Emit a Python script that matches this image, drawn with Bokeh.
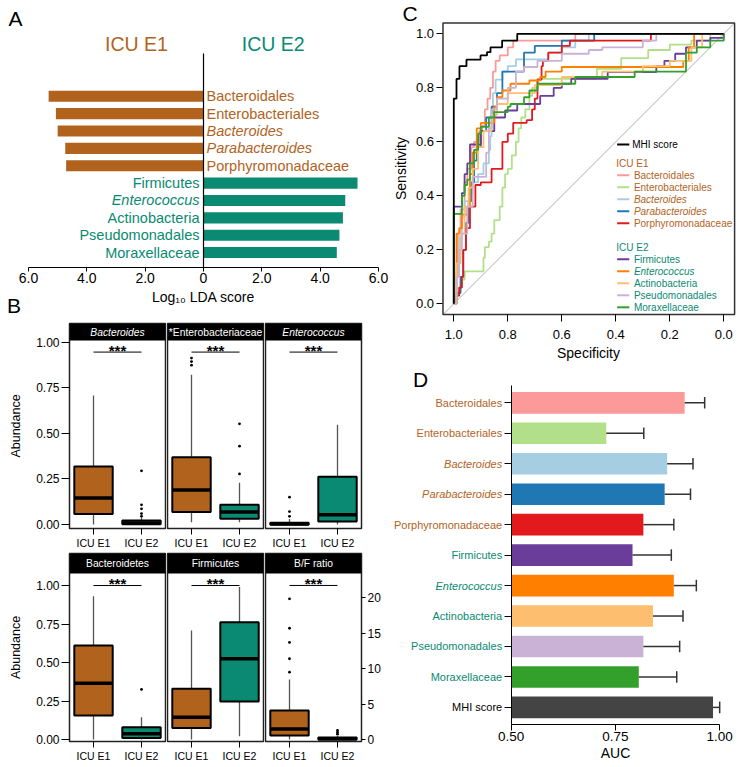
from bokeh.plotting import figure
from bokeh.layouts import row, column
from bokeh.models import (Range1d, FixedTicker, PrintfTickFormatter, LinearAxis,
                          ColumnDataSource)
from bokeh.core.properties import value, field
from bokeh.embed import file_html
from bokeh.resources import INLINE

FONT = "Liberation Sans"
BROWN = "#b1631e"
TEAL = "#0a8a72"

# ---------------- Panel A data (LEfSe) ----------------
lda_taxa = ["Bacteroidales", "Enterobacteriales", "Bacteroides", "Parabacteroides",
            "Porphyromonadaceae", "Firmicutes", "Enterococcus", "Actinobacteria",
            "Pseudomonadales", "Moraxellaceae"]
lda_group = ["ICU E1"] * 5 + ["ICU E2"] * 5
lda_score = [5.31, 5.06, 5.00, 4.74, 4.71, 5.28, 4.86, 4.78, 4.66, 4.57]
lda_ticks = [-6, -4, -2, 0, 2, 4, 6]
lda_tick_labels = ["6.0", "4.0", "2.0", "0", "2.0", "4.0", "6.0"]
italic_taxa = ["Bacteroides", "Parabacteroides", "Enterococcus"]

# ---------------- Panel B data (box plots) ----------------
box_panels = ["Bacteroides", "*Enterobacteriaceae", "Enterococcus",
              "Bacteroidetes", "Firmicutes", "B/F ratio"]
box_groups = ["ICU E1", "ICU E2"]
box_lower = [[0.0, 0.0], [0.013, 0.013], [0.0, 0.0], [0.0, 0.0], [0.0, 0.021], [0.0, 0.0]]
box_q1 = [[0.057, 0.001], [0.068, 0.031], [0.0, 0.016], [0.156, 0.01], [0.074, 0.247], [0.56, 0.0]]
box_median = [[0.145, 0.008], [0.19, 0.068], [0.003, 0.053], [0.366, 0.037], [0.145, 0.524], [1.5, 0.1]]
box_q3 = [[0.319, 0.022], [0.37, 0.108], [0.01, 0.262], [0.61, 0.08], [0.329, 0.762], [4.09, 0.3]]
box_upper = [[0.709, 0.035], [0.822, 0.229], [0.03, 0.548], [0.93, 0.145], [0.708, 0.99], [8.47, 0.5]]
box_outliers = [[[], [0.295, 0.108, 0.086, 0.06, 0.045]],
                [[0.914, 0.895, 0.875], [0.553, 0.43, 0.278]],
                [[0.15, 0.071, 0.045], []],
                [[], [0.325]],
                [[], []],
                [[19.86, 15.7, 13.7, 11.4, 9.5], [1.27, 1.0, 0.75]]]
abund_ticks = [0.0, 0.25, 0.5, 0.75, 1.0]
ratio_ticks = [0, 5, 10, 15, 20]

# ---------------- Panel C data (ROC step curves: specificity, sensitivity) ----------------
mhi_spec = [1.0, 1.0, 0.99, 0.979, 0.953, 0.901, 0.877, 0.864, 0.821, 0.765, 0.0]
mhi_sens = [0.0, 0.76, 0.833, 0.88, 0.904, 0.92, 0.932, 0.95, 0.975, 1.0, 1.0]
bacteroidales_spec = [1.0, 0.99, 0.985, 0.975, 0.96, 0.95, 0.935, 0.925, 0.905, 0.895, 0.885, 0.875, 0.865, 0.855, 0.845, 0.83, 0.8, 0.78, 0.55, 0.0]
bacteroidales_sens = [0.0, 0.1, 0.26, 0.35, 0.45, 0.5, 0.58, 0.6, 0.64, 0.66, 0.72, 0.76, 0.8, 0.86, 0.9, 0.92, 0.95, 0.975, 1.0, 1.0]
enterobacteriales_spec = [1.0, 0.99, 0.98, 0.97, 0.96, 0.89, 0.885, 0.87, 0.86, 0.85, 0.83, 0.82, 0.81, 0.8, 0.785, 0.77, 0.76, 0.75, 0.735, 0.72, 0.71, 0.69, 0.47, 0.38, 0.28, 0.2, 0.12, 0.05, 0.0]
enterobacteriales_sens = [0.0, 0.03, 0.06, 0.09, 0.12, 0.17, 0.21, 0.23, 0.26, 0.31, 0.36, 0.43, 0.48, 0.5, 0.55, 0.6, 0.65, 0.69, 0.72, 0.77, 0.8, 0.833, 0.87, 0.91, 0.94, 0.96, 0.975, 1.0, 1.0]
bacteroides_spec = [1.0, 0.99, 0.98, 0.97, 0.96, 0.94, 0.93, 0.91, 0.89, 0.87, 0.865, 0.86, 0.855, 0.845, 0.82, 0.8, 0.77, 0.65, 0.6, 0.55, 0.5, 0.0]
bacteroides_sens = [0.0, 0.12, 0.25, 0.32, 0.38, 0.41, 0.45, 0.48, 0.52, 0.57, 0.62, 0.7, 0.78, 0.83, 0.86, 0.88, 0.905, 0.93, 0.95, 0.975, 1.0, 1.0]
parabacteroides_spec = [1.0, 0.99, 0.975, 0.965, 0.955, 0.945, 0.935, 0.925, 0.915, 0.9, 0.88, 0.86, 0.84, 0.82, 0.74, 0.7, 0.6, 0.48, 0.0]
parabacteroides_sens = [0.0, 0.04, 0.1, 0.2, 0.3, 0.38, 0.45, 0.53, 0.58, 0.64, 0.69, 0.73, 0.78, 0.86, 0.93, 0.955, 0.975, 1.0, 1.0]
porphyromonadaceae_spec = [1.0, 0.99, 0.98, 0.97, 0.965, 0.955, 0.94, 0.92, 0.9, 0.86, 0.82, 0.8, 0.78, 0.73, 0.71, 0.7, 0.69, 0.675, 0.67, 0.65, 0.6, 0.57, 0.27, 0.0]
porphyromonadaceae_sens = [0.0, 0.03, 0.06, 0.1, 0.2, 0.28, 0.36, 0.44, 0.45, 0.5, 0.6, 0.63, 0.67, 0.68, 0.72, 0.76, 0.83, 0.88, 0.9, 0.93, 0.955, 0.975, 1.0, 1.0]
firmicutes_spec = [1.0, 1.0, 0.97, 0.96, 0.95, 0.94, 0.9, 0.85, 0.81, 0.765, 0.68, 0.63, 0.6, 0.565, 0.43, 0.25, 0.22, 0.18, 0.14, 0.1, 0.05, 0.0]
firmicutes_sens = [0.0, 0.36, 0.41, 0.48, 0.52, 0.59, 0.64, 0.69, 0.716, 0.74, 0.77, 0.8, 0.815, 0.833, 0.858, 0.88, 0.9, 0.926, 0.95, 0.975, 0.985, 1.0]
enterococcus_spec = [1.0, 0.99, 0.98, 0.97, 0.95, 0.94, 0.93, 0.915, 0.9, 0.85, 0.84, 0.82, 0.79, 0.72, 0.68, 0.66, 0.6, 0.15, 0.13, 0.11, 0.0]
enterococcus_sens = [0.0, 0.26, 0.28, 0.33, 0.36, 0.48, 0.56, 0.65, 0.67, 0.73, 0.765, 0.79, 0.815, 0.827, 0.84, 0.86, 0.877, 0.9, 0.95, 1.0, 1.0]
actinobacteria_spec = [1.0, 0.99, 0.975, 0.96, 0.945, 0.93, 0.91, 0.89, 0.86, 0.84, 0.8, 0.7, 0.6, 0.45, 0.3, 0.2, 0.12, 0.08, 0.0]
actinobacteria_sens = [0.0, 0.15, 0.26, 0.36, 0.43, 0.5, 0.58, 0.64, 0.7, 0.74, 0.78, 0.81, 0.84, 0.86, 0.88, 0.9, 0.95, 1.0, 1.0]
pseudomonadales_spec = [1.0, 0.99, 0.98, 0.97, 0.95, 0.93, 0.9, 0.88, 0.87, 0.86, 0.84, 0.8, 0.77, 0.74, 0.69, 0.6, 0.5, 0.45, 0.3, 0.25, 0.0]
pseudomonadales_sens = [0.0, 0.1, 0.2, 0.26, 0.36, 0.47, 0.47, 0.56, 0.65, 0.72, 0.76, 0.8, 0.86, 0.877, 0.9, 0.926, 0.94, 0.95, 0.975, 1.0, 1.0]
moraxellaceae_spec = [1.0, 1.0, 0.97, 0.96, 0.95, 0.94, 0.925, 0.91, 0.9, 0.87, 0.85, 0.8, 0.79, 0.74, 0.72, 0.69, 0.56, 0.55, 0.33, 0.14, 0.1, 0.05, 0.0]
moraxellaceae_sens = [0.0, 0.333, 0.4, 0.44, 0.46, 0.52, 0.57, 0.63, 0.655, 0.69, 0.71, 0.73, 0.74, 0.765, 0.79, 0.815, 0.815, 0.84, 0.86, 0.93, 0.95, 0.975, 1.0]
roc_ticks = [0.0, 0.2, 0.4, 0.6, 0.8, 1.0]

# ---------------- Panel D data (AUC) ----------------
auc_taxa = ["Bacteroidales", "Enterobacteriales", "Bacteroides", "Parabacteroides",
            "Porphyromonadaceae", "Firmicutes", "Enterococcus", "Actinobacteria",
            "Pseudomonadales", "Moraxellaceae", "MHI score"]
auc_group = ["ICU E1"] * 5 + ["ICU E2"] * 5 + ["all"]
auc_value = [0.916, 0.728, 0.874, 0.868, 0.817, 0.791, 0.890, 0.840, 0.817, 0.806, 0.984]
auc_upper = [0.964, 0.818, 0.936, 0.930, 0.890, 0.884, 0.944, 0.912, 0.904, 0.897, 1.0]
auc_ticks = [0.5, 0.75, 1.0]
taxon_colors = ["#fb9a99", "#b2df8a", "#a6cee3", "#1f78b4", "#e31a1c",
                "#6a3d9a", "#ff7f00", "#fdbf6f", "#cab2d6", "#33a02c", "#444444"]

group_color = {"ICU E1": BROWN, "ICU E2": TEAL, "all": "black"}


def fig(w, h, xr, yr, left, right, top, bottom, xloc="below", yloc="left"):
    p = figure(width=w, height=h, x_range=xr, y_range=yr, output_backend="svg",
               toolbar_location=None, title=None, x_axis_location=xloc,
               y_axis_location=yloc, min_border_left=left, min_border_right=right,
               min_border_top=top, min_border_bottom=bottom)
    p.grid.visible = False
    p.outline_line_color = None
    p.background_fill_color = "white"
    p.border_fill_color = "white"
    return p


def style_axis(ax, size, tick_out, standoff, line=True):
    ax.major_label_text_font = FONT
    ax.major_label_text_font_size = size
    ax.major_label_text_color = "black"
    ax.axis_label_text_font = FONT
    ax.axis_label_text_font_style = "normal"
    ax.axis_label_text_color = "black"
    ax.major_tick_in = 0
    ax.major_tick_out = tick_out
    ax.major_tick_line_color = "black"
    ax.minor_tick_line_color = None
    ax.major_label_standoff = standoff
    if not line:
        ax.axis_line_color = None


def letter(p, text, x, y):
    p.text(x=[x], y=[y], text=[text], text_font=value(FONT), text_font_size="21px",
           text_color="black", text_align="center", text_baseline="middle")


# ================= Panel A =================
signed = [-s if g == "ICU E1" else s for s, g in zip(lda_score, lda_group)]
srcA = ColumnDataSource(dict(
    y=list(range(len(lda_taxa))),
    left=[min(0, v) for v in signed],
    right=[max(0, v) for v in signed],
    color=[group_color[g] for g in lda_group],
    name=lda_taxa,
    style=["italic" if t in italic_taxa else "normal" for t in lda_taxa],
    align=["left" if g == "ICU E1" else "right" for g in lda_group],
    xoff=[3 if g == "ICU E1" else -4 for g in lda_group],
))
A_AXIS_Y = 9.86
pA = fig(393, 318, Range1d(-6.96, 6.514), Range1d(12.798, -5.518), 0, 0, 0, 0, yloc=None)
pA.hbar(y="y", left="left", right="right", height=0.64, fill_color="color",
        line_color=None, source=srcA)
pA.text(x=0, y="y", text="name", text_color="color", text_font=value(FONT),
        text_font_size="14.5px", text_font_style=field("style"), text_align=field("align"),
        x_offset=field("xoff"), text_baseline="middle", source=srcA)
pA.segment(x0=0, y0=-2.47, x1=0, y1=A_AXIS_Y, line_color="black", line_width=1.2)
pA.text(x=[-2.3, 2.39], y=[-3.04, -3.04], text=["ICU E1", "ICU E2"],
        text_color=[BROWN, TEAL], text_font=value(FONT), text_font_size="19.5px",
        text_align="center", text_baseline="middle")
axA = pA.xaxis[0]
style_axis(axA, "14px", 4, 2)
axA.fixed_location = A_AXIS_Y
axA.bounds = (-6, 6)
axA.ticker = FixedTicker(ticks=lda_ticks)
axA.major_label_overrides = {t: l for t, l in zip(lda_ticks, lda_tick_labels)}
axA.axis_label = "Log\u2081\u2080 LDA score"
axA.axis_label_text_font_size = "14px"
axA.axis_label_standoff = 2
letter(pA, "A", -6.446, -4.51)
letter(pA, "B", -6.497, 12.05)

# ================= Panel B =================
col_w = [167, 98, 128]
col_l = [69, 0, 0]
col_r = [2, 2, 32]
row_cfg = [dict(h=233, top=5, bottom=23, tick_out=6, standoff=2, strip=17 / 205.0),
           dict(h=215, top=2, bottom=25, tick_out=6, standoff=2, strip=20 / 188.0)]
ranges_B = [(-0.022, 1.104), (-0.022, 1.104), (-0.022, 1.104),
            (-0.013, 1.208), (-0.013, 1.208), (-0.28, 26.25)]
sig_B = [0.947, 0.947, 0.947, 1.0, 1.0, 21.74]
italic_panels = ["Bacteroides", "Enterococcus"]

facet_figs = []
for k, title in enumerate(box_panels):
    r = k // 3
    c = k % 3
    cfg = row_cfg[r]
    lo_v, hi_v = ranges_B[k]
    if c == 0:
        yloc = "left"
    elif k == 5:
        yloc = "right"
    else:
        yloc = None
    p = fig(col_w[c], cfg["h"], Range1d(0.5, 2.5), Range1d(lo_v, hi_v),
            col_l[c], col_r[c], cfg["top"], cfg["bottom"], yloc=yloc)
    p.outline_line_color = "#222222"
    p.outline_line_width = 1.5
    strip_bottom = hi_v - (hi_v - lo_v) * cfg["strip"]
    p.quad(left=0.5, right=2.5, bottom=strip_bottom, top=hi_v, fill_color="black",
           line_color=None)
    p.text(x=[1.5], y=[(strip_bottom + hi_v) / 2], text=[title], text_color="white",
           text_font=value(FONT), text_font_size="10.3px",
           text_font_style="italic" if title in italic_panels else "normal",
           text_align="center", text_baseline="middle")
    xs = [1, 2]
    src = ColumnDataSource(dict(
        x=xs, lo=box_lower[k], q1=box_q1[k], med=box_median[k], q3=box_q3[k],
        hi=box_upper[k], left=[x - 0.4 for x in xs], right=[x + 0.4 for x in xs],
        color=[group_color[g] for g in box_groups]))
    p.segment(x0="x", y0="q3", x1="x", y1="hi", line_color="#555555", line_width=1.3, source=src)
    p.segment(x0="x", y0="q1", x1="x", y1="lo", line_color="#555555", line_width=1.3, source=src)
    p.quad(left="left", right="right", bottom="q1", top="q3", fill_color="color",
           line_color="black", line_width=2, source=src)
    p.segment(x0="left", y0="med", x1="right", y1="med", line_color="black",
              line_width=3.5, source=src)
    ox, oy = [], []
    for j, outs in enumerate(box_outliers[k]):
        ox += [xs[j]] * len(outs)
        oy += outs
    if ox:
        p.scatter(x=ox, y=oy, size=2.8, fill_color="black", line_color=None, marker="circle")
    p.segment(x0=1, y0=sig_B[k], x1=2, y1=sig_B[k], line_color="black", line_width=1)
    p.text(x=[1.5], y=[sig_B[k]], text=["***"], text_color="black", text_font=value(FONT),
           text_font_size="15px", text_font_style="bold", text_align="center",
           text_baseline="alphabetic", y_offset=-2)
    ax = p.xaxis[0]
    style_axis(ax, "10.5px", cfg["tick_out"], cfg["standoff"], line=False)
    ax.ticker = FixedTicker(ticks=xs)
    ax.major_label_overrides = {1: box_groups[0], 2: box_groups[1]}
    if yloc == "left":
        ay = p.yaxis[0]
        style_axis(ay, "12px", 8, 2, line=False)
        ay.ticker = FixedTicker(ticks=abund_ticks)
        ay.formatter = PrintfTickFormatter(format="%.2f")
        ay.axis_label = "Abundance"
        ay.axis_label_text_font_size = "12.5px"
        ay.axis_label_standoff = 10
    elif yloc == "right":
        ay = p.yaxis[0]
        style_axis(ay, "12px", 4, 2, line=False)
        ay.ticker = FixedTicker(ticks=ratio_ticks)
    facet_figs.append(p)

# ================= Panel C =================
ROC_LO, ROC_HI = -0.04, 1.04
pC = fig(350, 365, Range1d(1.2233, -0.073), Range1d(-0.2285, 1.1233), 0, 0, 0, 0)
pC.segment(x0=ROC_HI, y0=ROC_LO, x1=ROC_LO, y1=ROC_HI, line_color="#b0b0b0", line_width=1)
roc_curves = [
    (bacteroidales_spec, bacteroidales_sens),
    (enterobacteriales_spec, enterobacteriales_sens),
    (bacteroides_spec, bacteroides_sens),
    (parabacteroides_spec, parabacteroides_sens),
    (porphyromonadaceae_spec, porphyromonadaceae_sens),
    (firmicutes_spec, firmicutes_sens),
    (enterococcus_spec, enterococcus_sens),
    (actinobacteria_spec, actinobacteria_sens),
    (pseudomonadales_spec, pseudomonadales_sens),
    (moraxellaceae_spec, moraxellaceae_sens),
    (mhi_spec, mhi_sens),
]
roc_colors = taxon_colors[:10] + ["black"]
for (sx, sy), col in zip(roc_curves, roc_colors):
    pC.step(x=sx, y=sy, mode="after", line_color=col, line_width=1.8)
pC.quad(left=ROC_HI, right=ROC_LO, bottom=ROC_LO, top=ROC_HI, fill_color=None,
        line_color="#333333", line_width=1.5)

# legend
leg_line_x0, leg_line_x1, leg_text_x, leg_head_x = 0.395, 0.35, 0.333, 0.398
lx0, lx1, ly, lcol = [], [], [], []
tx, ty, tt, tcol, tsty = [], [], [], [], []
yy = 0.59
lx0.append(leg_line_x0); lx1.append(leg_line_x1); ly.append(yy); lcol.append("black")
tx.append(0.339); ty.append(yy); tt.append("MHI score"); tcol.append("black"); tsty.append("normal")
for grp, gap in (("ICU E1", 0.069), ("ICU E2", 0.089)):
    yy -= gap
    tx.append(leg_head_x); ty.append(yy); tt.append(grp); tcol.append(group_color[grp]); tsty.append("normal")
    for i, t in enumerate(auc_taxa[:10]):
        if auc_group[i] != grp:
            continue
        yy -= 0.0445
        lx0.append(leg_line_x0); lx1.append(leg_line_x1); ly.append(yy); lcol.append(taxon_colors[i])
        tx.append(leg_text_x); ty.append(yy); tt.append(t); tcol.append(group_color[grp])
        tsty.append("italic" if t in italic_taxa else "normal")
pC.segment(x0=lx0, y0=ly, x1=lx1, y1=ly, line_color=lcol, line_width=2)
pC.text(x=tx, y=ty, text=tt, text_color=tcol, text_font_style=tsty, text_font=value(FONT),
        text_font_size="10px", text_align="left", text_baseline="middle")
bx = pC.xaxis[0]
style_axis(bx, "13px", 7, 8, line=False)
bx.fixed_location = ROC_LO
bx.bounds = (0, 1)
bx.ticker = FixedTicker(ticks=roc_ticks)
bx.formatter = PrintfTickFormatter(format="%.1f")
bx.axis_label = "Specificity"
bx.axis_label_text_font_size = "14px"
bx.axis_label_standoff = 3
by = pC.yaxis[0]
style_axis(by, "13px", 6, 3, line=False)
by.fixed_location = ROC_HI
by.bounds = (0, 1)
by.ticker = FixedTicker(ticks=roc_ticks)
by.formatter = PrintfTickFormatter(format="%.1f")
by.axis_label = "Sensitivity"
by.axis_label_text_font_size = "14px"
by.axis_label_standoff = 3
letter(pC, "C", 1.162, 1.0737)

# ================= Panel D =================
yD = list(range(len(auc_taxa)))
D_AXIS_Y = 10.545
D_TOP = -0.568
srcD = ColumnDataSource(dict(
    y=yD, auc=auc_value, upper=auc_upper, color=taxon_colors,
    cap_lo=[v - 0.19 for v in yD], cap_hi=[v + 0.19 for v in yD]))
pD = fig(350, 401, Range1d(0.2178, 1.0571), Range1d(11.94, -1.225), 0, 0, 0, 0, yloc=None)
pD.hbar(y="y", left=0.5, right="auc", height=0.71, fill_color="color", line_color=None, source=srcD)
pD.segment(x0="auc", y0="y", x1="upper", y1="y", line_color="#333333", line_width=1.5, source=srcD)
pD.segment(x0="upper", y0="cap_lo", x1="upper", y1="cap_hi", line_color="#333333",
           line_width=1.5, source=srcD)
first = True
for grp in ("ICU E1", "ICU E2", "all"):
    for sty in ("normal", "italic"):
        ticks = [i for i, (g, t) in enumerate(zip(auc_group, auc_taxa))
                 if g == grp and ("italic" if t in italic_taxa else "normal") == sty]
        if not ticks:
            continue
        ay = LinearAxis(ticker=FixedTicker(ticks=ticks),
                        major_label_overrides={i: auc_taxa[i] for i in ticks})
        style_axis(ay, "11px", 7, 2, line=first)
        ay.major_label_text_color = group_color[grp]
        ay.major_label_text_font_style = sty
        ay.fixed_location = 0.5
        ay.bounds = (D_TOP, D_AXIS_Y)
        pD.add_layout(ay, "left")
        first = False
dx = pD.xaxis[0]
style_axis(dx, "13.5px", 6, 2)
dx.fixed_location = D_AXIS_Y
dx.ticker = FixedTicker(ticks=auc_ticks)
dx.formatter = PrintfTickFormatter(format="%.2f")
dx.bounds = (0.5, 1.0)
dx.axis_label = "AUC"
dx.axis_label_text_font_size = "14px"
dx.axis_label_standoff = 0
letter(pD, "D", 0.2825, -0.749)

left_col = column(pA, row(*facet_figs[:3]), row(*facet_figs[3:]))
right_col = column(pC, pD)
layout = row(left_col, right_col)
open("out.html", "w").write(file_html(layout, INLINE, title="chart"))
